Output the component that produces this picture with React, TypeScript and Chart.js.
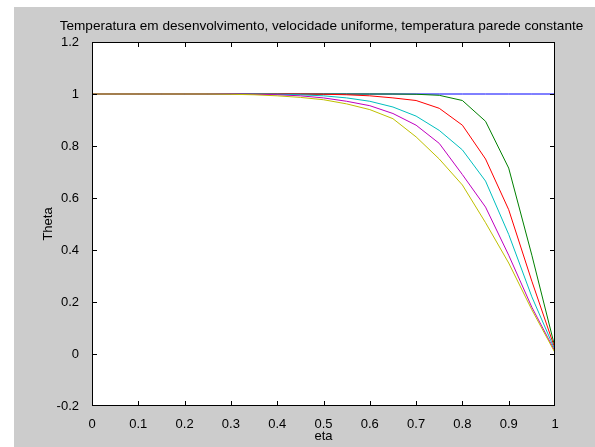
import React, { useEffect, useRef } from "react";
import { Chart, registerables } from "chart.js";

Chart.register(...registerables);

const TITLE = "Temperatura em desenvolvimento, velocidade uniforme, temperatura parede constante";
const X_LABEL = "eta";
const Y_LABEL = "Theta";

const eta = [0, 0.05, 0.1, 0.15, 0.2, 0.25, 0.3, 0.35, 0.4, 0.45, 0.5, 0.55, 0.6, 0.65, 0.7, 0.75, 0.8, 0.85, 0.9, 0.95, 1];

const thetaBlue = [1, 1, 1, 1, 1, 1, 1, 1, 1, 1, 1, 1, 1, 1, 1, 1, 1, 1, 1, 1, 1];
const thetaGreen = [1, 1, 1, 1, 1, 1, 1, 1, 1, 1, 1, 1, 1, 1, 0.999, 0.995, 0.975, 0.895, 0.715, 0.38, 0.025];
const thetaRed = [1, 1, 1, 1, 1, 1, 1, 1, 1, 1, 0.999, 0.997, 0.993, 0.985, 0.975, 0.945, 0.88, 0.75, 0.555, 0.28, 0.02];
const thetaCyan = [1, 1, 1, 1, 1, 1, 1, 1, 0.999, 0.997, 0.993, 0.985, 0.972, 0.95, 0.915, 0.86, 0.785, 0.665, 0.46, 0.22, 0.015];
const thetaMagenta = [1, 1, 1, 1, 1, 1, 1, 0.999, 0.997, 0.993, 0.985, 0.972, 0.955, 0.925, 0.88, 0.81, 0.69, 0.565, 0.38, 0.18, 0.01];
const thetaYellow = [1, 1, 1, 1, 1, 1, 0.999, 0.997, 0.993, 0.987, 0.978, 0.962, 0.94, 0.905, 0.835, 0.75, 0.65, 0.505, 0.35, 0.17, 0.005];

const seriesList = [
  { values: thetaBlue, color: "#0000ff" },
  { values: thetaGreen, color: "#008000" },
  { values: thetaRed, color: "#ff0000" },
  { values: thetaCyan, color: "#00bfbf" },
  { values: thetaMagenta, color: "#bf00bf" },
  { values: thetaYellow, color: "#bfbf00" },
];

const FONT = "'Liberation Sans', Arial, sans-serif";

const fmt = (v: number) => String(Number(Number(v).toFixed(2)));

const matlabPlugin = {
  id: "matlabFrame",
  beforeDraw(chart: any) {
    const { ctx, width, height, chartArea } = chart;
    ctx.save();
    ctx.fillStyle = "#ffffff";
    ctx.fillRect(0, 0, width, height);
    ctx.fillStyle = "#cccccc";
    ctx.fillRect(14, 7, width - 14, height - 7);
    ctx.fillStyle = "#ffffff";
    ctx.fillRect(chartArea.left, chartArea.top, chartArea.right - chartArea.left, chartArea.bottom - chartArea.top);
    ctx.restore();
  },
  afterDatasetsDraw(chart: any) {
    const { ctx, chartArea } = chart;
    const { left, right, top, bottom } = chartArea;
    const xs = chart.scales.x;
    const ys = chart.scales.y;
    const TL = 5;
    ctx.save();
    ctx.strokeStyle = "#000000";
    ctx.lineWidth = 1;
    ctx.beginPath();
    for (const t of xs.ticks) {
      const px = Math.round(xs.getPixelForValue(t.value)) + 0.5;
      if (px - 0.5 <= left + 1 || px - 0.5 >= right - 1) continue;
      ctx.moveTo(px, bottom);
      ctx.lineTo(px, bottom - TL);
      ctx.moveTo(px, top);
      ctx.lineTo(px, top + TL);
    }
    for (const t of ys.ticks) {
      const py = Math.round(ys.getPixelForValue(t.value)) + 0.5;
      if (py - 0.5 <= top + 1 || py - 0.5 >= bottom - 1) continue;
      ctx.moveTo(left, py);
      ctx.lineTo(left + TL, py);
      ctx.moveTo(right, py);
      ctx.lineTo(right - TL, py);
    }
    ctx.stroke();
    ctx.strokeRect(Math.round(left) + 0.5, Math.round(top) + 0.5, Math.round(right - left) - 1, Math.round(bottom - top) - 1);
    // title centred over the axes
    ctx.fillStyle = "#000000";
    ctx.font = "13.6px " + FONT;
    ctx.textAlign = "center";
    ctx.textBaseline = "alphabetic";
    ctx.fillText(TITLE, (left + right) / 2 - 2, 29.5);
    ctx.restore();
  },
};

export default function App() {
  const ref = useRef<HTMLCanvasElement | null>(null);

  useEffect(() => {
    const canvas = ref.current;
    if (!canvas) return;
    const datasets = seriesList.map((s, i) => ({
      label: "s" + i,
      data: eta.map((x, j) => ({ x, y: s.values[j] })),
      borderColor: s.color,
      backgroundColor: s.color,
      borderWidth: 1,
      pointRadius: 0,
      tension: 0,
      fill: false,
      order: seriesList.length - i,
    }));
    const chart = new Chart(canvas, {
      type: "line",
      data: { datasets },
      options: {
        animation: false,
        responsive: false,
        maintainAspectRatio: false,
        layout: { padding: { top: 42, right: 40, left: 0, bottom: 0 } },
        plugins: {
          legend: { display: false },
          tooltip: { enabled: false },
          title: { display: false },
        },
        scales: {
          x: {
            type: "linear",
            min: 0,
            max: 1,
            grid: { display: false },
            border: { display: false },
            ticks: {
              stepSize: 0.1,
              padding: 3,
              maxRotation: 0,
              autoSkip: false,
              color: "#000000",
              font: { family: FONT, size: 13 },
              callback: (v: any) => fmt(v),
            },
            title: {
              display: true,
              text: X_LABEL,
              color: "#000000",
              font: { family: FONT, size: 13 },
              padding: { top: 0, bottom: 3 },
            },
            afterFit: (scale: any) => {
              scale.height = 41;
            },
          },
          y: {
            type: "linear",
            min: -0.2,
            max: 1.2,
            grid: { display: false },
            border: { display: false },
            ticks: {
              stepSize: 0.2,
              padding: 5,
              autoSkip: false,
              color: "#000000",
              font: { family: FONT, size: 13 },
              callback: (v: any) => fmt(v),
            },
            title: {
              display: true,
              text: Y_LABEL,
              color: "#000000",
              font: { family: FONT, size: 13 },
              padding: { top: 41, bottom: 0 },
            },
            afterFit: (scale: any) => {
              scale.width = 92;
            },
          },
        },
      },
      plugins: [matlabPlugin],
    });
    return () => chart.destroy();
  }, []);

  return (
    <div style={{ position: "fixed", left: 0, top: 0, width: 595, height: 447 }}>
      <canvas ref={ref} width={595} height={447} style={{ display: "block", width: 595, height: 447 }} />
    </div>
  );
}
